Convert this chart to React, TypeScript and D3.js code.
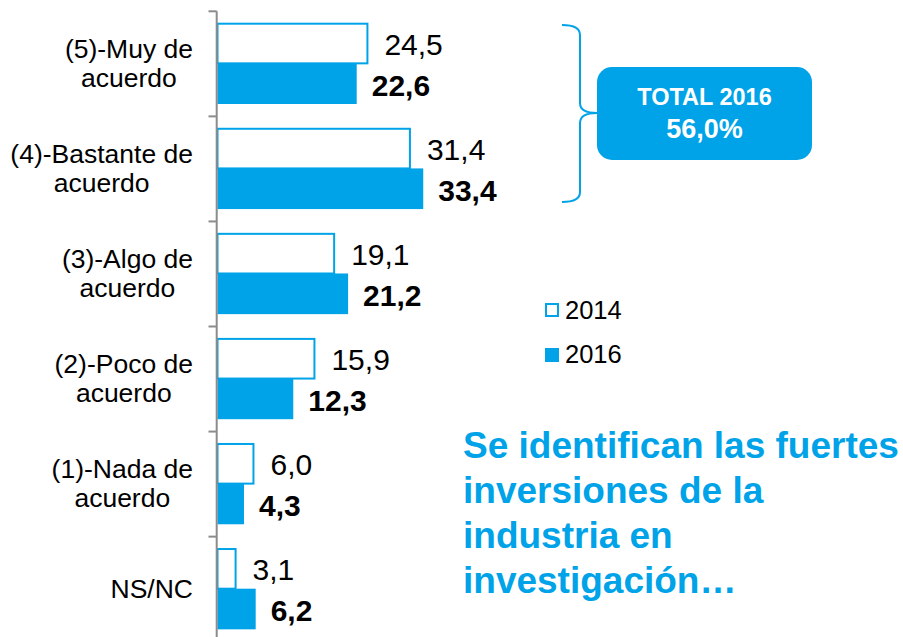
import React from "react";
import * as d3 from "d3";

const categoryLabels: string[][] = [
  ["(5)-Muy de", "acuerdo"],
  ["(4)-Bastante de", "acuerdo"],
  ["(3)-Algo de", "acuerdo"],
  ["(2)-Poco de", "acuerdo"],
  ["(1)-Nada de", "acuerdo"],
  ["NS/NC"],
];
const series = ["2014", "2016"];
const values2014 = [24.5, 31.4, 19.1, 15.9, 6.0, 3.1];
const values2016 = [22.6, 33.4, 21.2, 12.3, 4.3, 6.2];
const totalTitle = "TOTAL 2016";
const totalValue = "56,0%";
const noteLines = [
  "Se identifican las fuertes",
  "inversiones de la",
  "industria en",
  "investigación…",
];

const BLUE = "#00A3E8";
const FONT = "'Liberation Sans', Arial, Helvetica, sans-serif";

function measure(text: string, font: string): number {
  if (typeof document === "undefined") return text.length * 12;
  const c = document.createElement("canvas");
  const ctx = c.getContext("2d");
  if (!ctx) return text.length * 12;
  ctx.font = font;
  return ctx.measureText(text).width;
}

const fmt = (v: number) => v.toFixed(1).replace(".", ",");

export default function App() {
  const W = 903;
  const H = 637;
  const idx = categoryLabels.map((_, i) => i);
  const y = d3.scaleBand<number>().domain(idx).range([11.3, 641.7]).padding(0);
  const sub = d3.scaleBand<string>().domain(series).range([11.4, 92.7]).padding(0);
  const x = d3.scaleLinear().domain([0, 50]).range([217.5, 217.5 + 6.16 * 50]);
  const axisX = 216.7;
  const labelRight = 193;
  const catFontSize = 26.5;
  const catFont = `${catFontSize}px ${FONT}`;
  const lineGap = 29.5;
  const valFont = 30;

  const boundaries = idx.map((i) => y(i) as number).concat([(y(idx.length - 1) as number) + y.bandwidth()]);

  return (
    <svg
      width={W}
      height={H}
      style={{ position: "absolute", left: 0, top: 0, background: "#fff" }}
      fontFamily={FONT}
    >
      {/* bars */}
      {idx.map((i) => {
        const y0 = y(i) as number;
        const y14 = y0 + (sub("2014") as number);
        const y16 = y0 + (sub("2016") as number);
        const bh = sub.bandwidth();
        return (
          <g key={i}>
            <rect
              x={x(0)}
              y={y14 + 1}
              width={Math.max(0, x(values2014[i]) - x(0) - 1)}
              height={bh - 1}
              fill="#fff"
              stroke={BLUE}
              strokeWidth={2}
            />
            <rect x={x(0)} y={y16} width={x(values2016[i]) - x(0)} height={bh} fill={BLUE} />
            <text x={x(values2014[i]) + 16} y={y14 + bh / 2 + 12} fontSize={valFont} fill="#000">
              {fmt(values2014[i])}
            </text>
            <text x={x(values2016[i]) + 15} y={y16 + bh / 2 + 12} fontSize={valFont} fontWeight="bold" fill="#000">
              {fmt(values2016[i])}
            </text>
          </g>
        );
      })}

      {/* axis */}
      <line x1={axisX} x2={axisX} y1={boundaries[0]} y2={H} stroke="#8c8c8c" strokeWidth={2} />
      {boundaries.map((b, i) => (
        <line key={i} x1={208.5} x2={axisX} y1={b} y2={b} stroke="#8c8c8c" strokeWidth={2} />
      ))}

      {/* category labels */}
      {categoryLabels.map((lines, i) => {
        const center = (y(i) as number) + y.bandwidth() / 2;
        const maxW = Math.max(...lines.map((l) => measure(l, catFont)));
        const cx = labelRight - maxW / 2;
        const n = lines.length;
        return (
          <text key={i} fontSize={catFontSize} textAnchor="middle" fill="#000">
            {lines.map((l, j) => (
              <tspan key={j} x={cx} y={center + 8.5 + (j - (n - 1) / 2) * lineGap}>
                {l}
              </tspan>
            ))}
          </text>
        );
      })}

      {/* legend */}
      <rect x={546} y={304} width={12} height={12} fill="#fff" stroke={BLUE} strokeWidth={2} />
      <text x={565} y={319} fontSize={25.5} fill="#000">{series[0]}</text>
      <rect x={545} y={348} width={14} height={14} fill={BLUE} />
      <text x={565} y={363} fontSize={25.5} fill="#000">{series[1]}</text>

      {/* bracket */}
      <path
        d="M562,25 Q580,25 580,35 L580,103 Q580,113 597,113 Q580,113 580,123 L580,192 Q580,202 562,202"
        fill="none"
        stroke={BLUE}
        strokeWidth={2}
      />

      {/* total box */}
      <rect x={597} y={67} width={215} height={93} rx={15} ry={15} fill={BLUE} />
      <text x={704.5} y={105} textAnchor="middle" fontSize={23.5} fontWeight="bold" fill="#fff">
        {totalTitle}
      </text>
      <text x={704.5} y={138} textAnchor="middle" fontSize={27} fontWeight="bold" fill="#fff">
        {totalValue}
      </text>

      {/* note */}
      <text fontSize={37} fontWeight="bold" fill={BLUE}>
        {noteLines.map((l, j) => (
          <tspan key={j} x={463} y={458 + j * 45}>
            {l}
          </tspan>
        ))}
      </text>
    </svg>
  );
}
